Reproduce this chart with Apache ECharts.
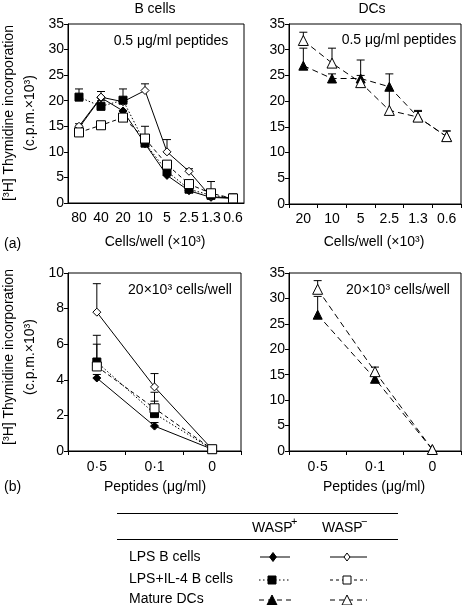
<!DOCTYPE html>
<html><head><meta charset="utf-8">
<script src="https://cdn.jsdelivr.net/npm/echarts@6/dist/echarts.min.js"></script>
<style>html,body{margin:0;padding:0;background:#fff}#c{width:463px;height:605px}</style>
</head><body><div id="c"></div>
<script>
// ---- Data ----
const cellsB = ['80','40','20','10','5','2.5','1.3','0.6'];
const cellsDC = ['20','10','5','2.5','1.3','0.6'];
const peptides = ['0·5','0·1','0'];

// (a) B cells, 0.5 ug/ml peptides
const aLpsPlus   = [14.7, 20.6, 18.0, 11.6, 5.4, 2.4, 1.1, 0.9];
const aLpsMinus  = [15.0, 20.7, 19.8, 22.0, 10.0, 6.2, 1.2, 1.0];
const aIl4Plus   = [20.7, 18.9, 20.1, 11.7, 6.2, 2.7, 1.5, 1.0];
const aIl4Minus  = [13.8, 15.2, 16.7, 12.6, 7.5, 3.7, 1.9, 0.9];
const aLpsPlusErr  = [15.5, null, null, null, null, null, null, null];
const aLpsMinusErr = [null, 21.8, 20.6, 23.3, 12.4, 6.7, null, null];
const aIl4PlusErr  = [22.3, 20.0, 22.3, 13.3, null, null, null, null];
const aIl4MinusErr = [null, 15.7, 17.4, 15.0, 8.0, null, 4.2, null];

// (a) DCs
const aDcPlus  = [26.9, 24.4, 24.4, 22.8, 16.9, 13.1];
const aDcMinus = [31.8, 27.4, 23.6, 18.2, 16.9, 13.1];
const aDcPlusErr  = [30.3, 25.3, 25.0, null, 18.2, 14.2];
const aDcMinusErr = [33.4, 30.3, 28.0, 25.3, 18.0, 14.2];

// (b) B cells, 20x10^3 cells/well
const bLpsPlus  = [4.1, 1.4, 0.1];
const bLpsMinus = [7.8, 3.6, 0.1];
const bIl4Plus  = [5.0, 2.1, 0.1];
const bIl4Minus = [4.75, 2.4, 0.1];
const bLpsPlusErr  = [4.3, 1.6, null];
const bLpsMinusErr = [9.4, 4.35, null];
const bIl4PlusErr  = [6.0, 2.8, null];
const bIl4MinusErr = [6.5, 3.3, null];

// (b) DCs
const bDcPlus  = [26.8, 14.2, 0.3];
const bDcMinus = [31.8, 15.6, 0.3];
const bDcPlusErr  = [30.4, null, null];
const bDcMinusErr = [33.5, 16.5, null];

// ---- Styles ----
const FONT = '"Liberation Sans", Arial, Helvetica, sans-serif';
const styles = {
  lpsPlus:  {symbol:'diamond', size:8, fill:'#000', dash:'solid'},
  lpsMinus: {symbol:'diamond', size:8, fill:'#fff', dash:'solid'},
  il4Plus:  {symbol:'rect', size:8, fill:'#000', dash:[1.5,2]},
  il4Minus: {symbol:'rect', size:9, fill:'#fff', dash:[4,3]},
  dcPlus:   {symbol:'triangle', size:9, fill:'#000', dash:[6,4]},
  dcMinus:  {symbol:'triangle', size:10, fill:'#fff', dash:[6,4]}
};

function lineSeries(gi, data, st) {
  return {
    type:'line', xAxisIndex:gi, yAxisIndex:gi, data:data, z:3,
    symbol:st.symbol, symbolSize:st.size, showSymbol:true,
    lineStyle:{color:'#000', width:1, type:st.dash},
    itemStyle:{color:st.fill, borderColor:'#000', borderWidth:1},
    animation:false
  };
}
function errSeries(gi, vals, errs) {
  const d = [];
  errs.forEach((u,i)=>{ if(u!=null) d.push([i, vals[i], u]); });
  return {
    type:'custom', xAxisIndex:gi, yAxisIndex:gi, z:1, data:d,
    encode:{x:0, y:[1,2]}, animation:false,
    renderItem:function(params, api){
      const x = api.value(0), v = api.value(1), u = api.value(2);
      const p1 = api.coord([x, v]), p2 = api.coord([x, u]);
      const s = {stroke:'#000', lineWidth:1};
      return {type:'group', children:[
        {type:'line', shape:{x1:p1[0], y1:p1[1], x2:p2[0], y2:p2[1]}, style:s},
        {type:'line', shape:{x1:p2[0]-4, y1:p2[1], x2:p2[0]+4, y2:p2[1]}, style:s}
      ]};
    }
  };
}

const grids = [
  {left:68, top:24, width:176, height:179},
  {left:289, top:24, width:172, height:180},
  {left:68, top:273, width:173, height:178},
  {left:289, top:273, width:172, height:178}
].map(g=>Object.assign({show:true, borderColor:'#000', borderWidth:1, backgroundColor:'transparent'}, g));

function xAx(gi, cats, ticks, margin) {
  return {type:'category', gridIndex:gi, data:cats, boundaryGap:true,
    axisLine:{lineStyle:{color:'#000', width:1}},
    axisTick:{show:ticks, length:4, lineStyle:{color:'#000'}},
    axisLabel:{color:'#000', fontFamily:FONT, fontSize:14, margin:margin, interval:0}};
}
function yAx(gi, max, interval) {
  return {type:'value', gridIndex:gi, min:0, max:max, interval:interval,
    splitLine:{show:false},
    axisLine:{show:true, lineStyle:{color:'#000', width:1}},
    axisTick:{show:true, length:4, lineStyle:{color:'#000'}},
    axisLabel:{color:'#000', fontFamily:FONT, fontSize:14, margin:4}};
}

const series = [
  errSeries(0, aLpsPlus, aLpsPlusErr), errSeries(0, aLpsMinus, aLpsMinusErr),
  errSeries(0, aIl4Plus, aIl4PlusErr), errSeries(0, aIl4Minus, aIl4MinusErr),
  lineSeries(0, aLpsPlus, styles.lpsPlus), lineSeries(0, aLpsMinus, styles.lpsMinus),
  lineSeries(0, aIl4Plus, styles.il4Plus), lineSeries(0, aIl4Minus, styles.il4Minus),

  errSeries(1, aDcPlus, aDcPlusErr), errSeries(1, aDcMinus, aDcMinusErr),
  lineSeries(1, aDcPlus, styles.dcPlus), lineSeries(1, aDcMinus, styles.dcMinus),

  errSeries(2, bLpsPlus, bLpsPlusErr), errSeries(2, bLpsMinus, bLpsMinusErr),
  errSeries(2, bIl4Plus, bIl4PlusErr), errSeries(2, bIl4Minus, bIl4MinusErr),
  lineSeries(2, bLpsPlus, styles.lpsPlus), lineSeries(2, bLpsMinus, styles.lpsMinus),
  lineSeries(2, bIl4Plus, styles.il4Plus), lineSeries(2, bIl4Minus, styles.il4Minus),

  errSeries(3, bDcPlus, bDcPlusErr), errSeries(3, bDcMinus, bDcMinusErr),
  lineSeries(3, bDcPlus, styles.dcPlus), lineSeries(3, bDcMinus, styles.dcMinus)
];

function txt(x, y, text, opts) {
  return Object.assign({type:'text', x:x, y:y, z:10, style:Object.assign({
    text:text, fill:'#000', font:'14px ' + FONT, textAlign:'center', textVerticalAlign:'middle'
  }, (opts && opts.style) || {})}, (opts && opts.el) || {});
}
function rtxt(x, y, text) {
  return {type:'text', x:x, y:y, rotation:Math.PI/2, z:10,
    style:{text:text, fill:'#000', font:'14px ' + FONT, textAlign:'center', textVerticalAlign:'middle'}};
}
function hline(x1, x2, y, dash) {
  return {type:'line', z:10, shape:{x1:x1, y1:y, x2:x2, y2:y},
    style:{stroke:'#000', lineWidth:1, lineDash:dash || null}};
}
function sym(kind, cx, cy, s, fill) {
  const h = s/2;
  if (kind === 'diamond') return {type:'polygon', z:11, shape:{points:[[cx,cy-h],[cx+h*0.75,cy],[cx,cy+h],[cx-h*0.75,cy]]}, style:{fill:fill, stroke:'#000', lineWidth:1}};
  if (kind === 'rect') return {type:'rect', z:11, shape:{x:cx-h, y:cy-h, width:s, height:s}, style:{fill:fill, stroke:'#000', lineWidth:1}};
  return {type:'polygon', z:11, shape:{points:[[cx,cy-h],[cx+h,cy+h],[cx-h,cy+h]]}, style:{fill:fill, stroke:'#000', lineWidth:1}};
}

const graphics = [
  txt(155, 9, 'B cells'), txt(372, 9, 'DCs'),
  txt(171, 41, '0.5 μg/ml peptides'), txt(399, 40, '0.5 μg/ml peptides'),
  txt(180, 290, '20×10³ cells/well'), txt(398, 290, '20×10³ cells/well'),
  txt(155, 242, 'Cells/well (×10³)'), txt(374, 242, 'Cells/well (×10³)'),
  txt(155, 487, 'Peptides (μg/ml)'), txt(374, 487, 'Peptides (μg/ml)'),
  txt(4, 244, '(a)', {style:{textAlign:'left'}}), txt(4, 487, '(b)', {style:{textAlign:'left'}}),
  rtxt(9, 113, '[³H] Thymidine incorporation'), rtxt(30, 113, '(c.p.m.×10³)'),
  rtxt(9, 357, '[³H] Thymidine incorporation'), rtxt(30, 357, '(c.p.m.×10³)'),
  // legend table
  hline(117, 398, 513.5), hline(117, 398, 539.5),
  txt(252, 528, 'WASP', {style:{textAlign:'left'}}),
  txt(291, 522, '+', {style:{font:'11px ' + FONT, textAlign:'left'}}),
  txt(322, 528, 'WASP', {style:{textAlign:'left'}}),
  txt(361, 522, '−', {style:{font:'11px ' + FONT, textAlign:'left'}}),
  txt(129, 557, 'LPS B cells', {style:{textAlign:'left'}}),
  txt(129, 579, 'LPS+IL-4 B cells', {style:{textAlign:'left'}}),
  txt(129, 599, 'Mature DCs', {style:{textAlign:'left'}}),
  hline(260, 290, 557), sym('diamond', 273, 557, 9, '#000'),
  hline(330, 367, 557), sym('diamond', 347, 557, 8, '#fff'),
  hline(259, 291, 580, [1.5,2.5]), sym('rect', 272, 580, 8, '#000'),
  hline(330, 367, 580, [3,3]), sym('rect', 347, 580, 8, '#fff'),
  hline(259, 291, 600, [5,4]), sym('triangle', 272, 600, 10, '#000'),
  hline(330, 367, 600, [5,4]), sym('triangle', 347, 600, 10, '#fff')
];

const option = {
  backgroundColor:'#fff',
  animation:false,
  grid:grids,
  xAxis:[xAx(0, cellsB, false, 8), xAx(1, cellsDC, true, 8), xAx(2, peptides, true, 9), xAx(3, peptides, true, 9)],
  yAxis:[yAx(0, 35, 5), yAx(1, 35, 5), yAx(2, 10, 2), yAx(3, 35, 5)],
  series:series,
  graphic:graphics
};
const chart = echarts.init(document.getElementById('c'), null, {renderer:'canvas'});
chart.setOption(option);
</script></body></html>
